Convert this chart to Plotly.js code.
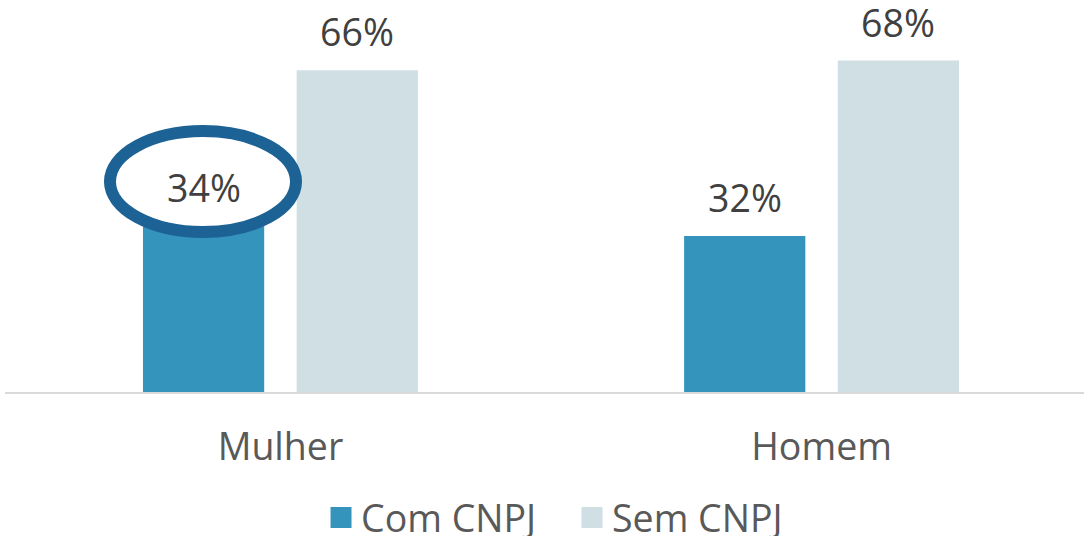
<!DOCTYPE html>
<html>
<head>
<meta charset="utf-8">
<script src="https://cdn.plot.ly/plotly-3.0.1.min.js"></script>
<style>html,body{margin:0;padding:0;background:#fff;}#chart{width:1084px;height:536px;}</style>
</head>
<body>
<div id="chart"></div>
<script>
const categories = ['Mulher', 'Homem'];
const seriesNames = ['Com CNPJ', 'Sem CNPJ'];
const comCNPJ = [34, 32];
const semCNPJ = [66, 68];

const colors = ['#3494bb', '#d0dfe4'];
const barWidth = 0.224;
const offsets = [-0.254, 0.030];
const seriesValues = [comCNPJ, semCNPJ];
const FS = 37.5;

const traces = [];
const annotations = [];
seriesValues.forEach((vals, t) => {
  traces.push({
    type: 'bar', name: seriesNames[t], x: categories, y: vals,
    width: barWidth, offset: offsets[t],
    marker: {color: colors[t]}, showlegend: false, hoverinfo: 'x+y'
  });
  traces.push({
    type: 'scatter', mode: 'markers', name: seriesNames[t], x: [null], y: [null],
    marker: {symbol: 'square', size: 16, color: colors[t], line: {color: colors[t], width: 5}},
    showlegend: true
  });
  vals.forEach((v, j) => {
    annotations.push({
      x: j + offsets[t] + barWidth / 2, y: v, xref: 'x', yref: 'y',
      text: v + '%', showarrow: false, yanchor: 'bottom', yshift: 11,
      font: {family: 'Open Sans', size: FS, color: '#404040'}
    });
  });
});

const layout = {
  width: 1084, height: 536,
  margin: {l: 5, r: 0, t: 2, b: 144, autoexpand: false},
  paper_bgcolor: '#fff', plot_bgcolor: '#fff',
  font: {family: 'Open Sans', color: '#595959'},
  barmode: 'group',
  xaxis: {
    type: 'category', range: [-0.509, 1.485], automargin: false,
    showline: true, linecolor: '#d9d9d9', linewidth: 2,
    showgrid: false, zeroline: false, ticks: '', ticklabelstandoff: 21,
    tickfont: {family: 'Open Sans', size: FS, color: '#595959'}
  },
  yaxis: {range: [0, 80], visible: false, showgrid: false, zeroline: false, automargin: false},
  legend: {
    orientation: 'h', x: 0.5255, xanchor: 'center', y: -0.322, yanchor: 'middle',
    font: {family: 'Open Sans', size: FS, color: '#595959'},
    entrywidth: 206, entrywidthmode: 'pixels',
    traceorder: 'normal', itemclick: false
  },
  shapes: [{
    type: 'circle', xref: 'paper', yref: 'paper',
    x0: 0.0973, x1: 0.2697, y0: 0.410, y1: 0.669,
    line: {color: '#1d6295', width: 12}, fillcolor: '#ffffff', layer: 'above'
  }],
  annotations: annotations
};

Plotly.newPlot('chart', traces, layout, {displayModeBar: false, staticPlot: true});
</script>
</body>
</html>
